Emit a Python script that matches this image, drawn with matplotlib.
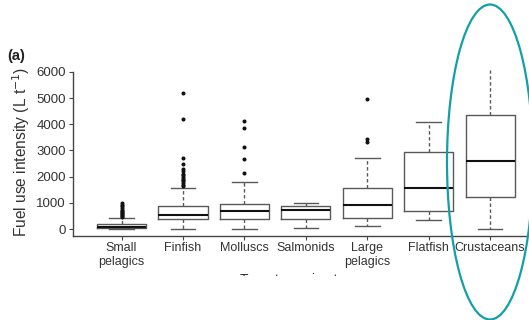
import matplotlib
matplotlib.use("Agg")
import matplotlib.pyplot as plt
from matplotlib.patches import Ellipse, Rectangle

plt.rcParams['font.family'] = ['Liberation Sans', 'DejaVu Sans']

# fuel use intensity (L per tonne landed) by species group
categories = ["Small\npelagics", "Finfish", "Molluscs", "Salmonids",
              "Large\npelagics", "Flatfish", "Crustaceans"]
q1 = [30, 370, 370, 390, 430, 690, 1240]
medians = [90, 530, 690, 740, 920, 1580, 2600]
q3 = [190, 870, 940, 870, 1560, 2940, 4360]
whisker_lo = [0, 10, 0, 50, 100, 360, 10]
whisker_hi = [430, 1580, 1810, 980, 2710, 4070, 6070]
outliers = [
    [980, 920, 870, 800, 740, 690, 640, 600, 560, 520, 490, 460],
    [5200, 4220, 2700, 2480, 2300, 2200, 2120, 2050, 1980, 1920,
     1870, 1820, 1760, 1700, 1650],
    [4120, 3850, 3150, 2660, 2150],
    [],
    [4950, 3450, 3320],
    [],
    [],
]
y_ticks = [0, 1000, 2000, 3000, 4000, 5000, 6000]

W, H = 529, 320
fig = plt.figure(figsize=(W / 100, H / 100), dpi=100)
ax = fig.add_axes([73 / W, 1 - 236 / H, 454 / W, 168 / H])

stats = []
for i in range(len(categories)):
    stats.append({
        'q1': q1[i], 'med': medians[i], 'q3': q3[i],
        'whislo': whisker_lo[i], 'whishi': whisker_hi[i],
        'fliers': outliers[i],
    })

edge = '#595959'
parts = ax.bxp(
    stats, positions=range(len(categories)), widths=0.8, capwidths=0.4,
    showfliers=True,
    boxprops=dict(color=edge, linewidth=1.0),
    medianprops=dict(color='#111111', linewidth=1.5),
    whiskerprops=dict(color=edge, linewidth=1.0, linestyle=(0, (2.5, 1.8))),
    capprops=dict(color=edge, linewidth=1.0),
    flierprops=dict(marker='o', markersize=1.9, markerfacecolor='#111111',
                    markeredgecolor='#111111', linestyle='none'),
)
# top whisker of the last group runs off the scale, no cap there
parts['caps'][2 * (len(categories) - 1) + 1].set_visible(False)

ax.set_xlim(-0.79, 6.6)
ax.set_ylim(-267, 6150)
ax.set_yticks(y_ticks)
ax.set_xticks(range(len(categories)))
ax.set_xticklabels(categories, fontsize=9, color='#333333', linespacing=1.2)
ax.tick_params(axis='y', labelsize=9.5, labelcolor='#333333', length=3,
               width=0.8, color='#444444', pad=2)
ax.tick_params(axis='x', length=3, width=0.8, color='#444444', pad=1.5)
for s in ['top', 'right']:
    ax.spines[s].set_visible(False)
for s in ['left', 'bottom']:
    ax.spines[s].set_color('#444444')
    ax.spines[s].set_linewidth(1.0)
ax.spines['left'].set_bounds(-267, 6000)

ax.set_ylabel('Fuel use intensity (L t$^{-1}$)', fontsize=11.2, color='#333333',
              labelpad=3)

fig.text(7 / W, 1 - 60 / H, '(a)', fontsize=10.5, fontweight='bold',
         color='#222222', ha='left', va='baseline')

# x axis title, cut off along the lower edge
fig.text(300 / W, 1 - 273.3 / H, 'Target species type', fontsize=10,
         color='#333333', ha='center', va='top', zorder=3)
fig.patches.append(Rectangle((0, 0), 1, 1 - 276 / H, transform=fig.transFigure,
                             facecolor='white', edgecolor='none', zorder=5))

# highlight around the crustaceans group
fig.patches.append(Ellipse((490 / W, 1 - 162 / H), 86 / W, 315 / H,
                           transform=fig.transFigure, fill=False,
                           edgecolor='#12a0a8', linewidth=1.6, zorder=10))

fig.savefig('out.png', dpi=100)
